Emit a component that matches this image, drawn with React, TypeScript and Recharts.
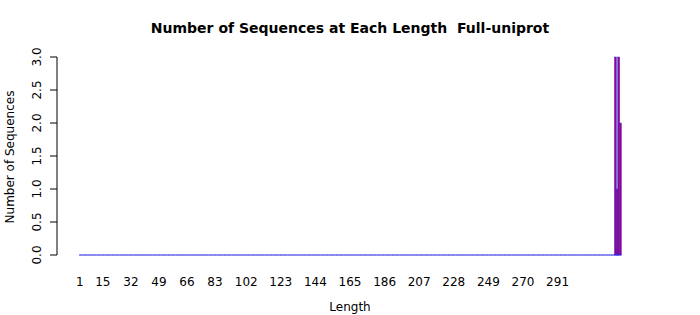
import React from 'react';
import { BarChart, Bar, XAxis, YAxis } from 'recharts';

// lengths run from 1 to 329, only the last few have sequences
const firstLength = 1;
const lastLength = 329;
const seenLengths = [326, 327, 328, 329];
const seenCounts = [3, 1, 3, 2];

const xTickLabels = [1, 15, 32, 49, 66, 83, 102, 123, 144, 165, 186, 207, 228, 249, 270, 291];
const yTicks = [0, 0.5, 1, 1.5, 2, 2.5, 3];

const lengths: number[] = [];
for (let l = firstLength; l <= lastLength; l++) lengths.push(l);

const data = lengths.map((length) => {
  const i = seenLengths.indexOf(length);
  return { length, count: i >= 0 ? seenCounts[i] : 0 };
});

const FONT = '"DejaVu Sans", sans-serif';

// bar drawn like R barplot: fill plus blue border, zero bars leave the blue line
const BarShape = (props: any) => {
  const { x, y, width, height } = props;
  return (
    <g>
      {height > 0 && (
        <rect x={x} y={y} width={width} height={height} fill="#a0007c" stroke="#3a2ee8" strokeWidth={0.5} />
      )}
      <line x1={x} x2={x + width} y1={y + height} y2={y + height} stroke="#2a2ae8" strokeWidth={1} />
    </g>
  );
};

const XTick = (props: any) => {
  const { x, y, payload } = props;
  if (!xTickLabels.includes(payload.value)) return null;
  return (
    <text x={x} y={y + 29} textAnchor="middle" fontSize={12} fontFamily={FONT} fill="#000">
      {payload.value}
    </text>
  );
};

const YTick = (props: any) => {
  const { y, payload } = props;
  return (
    <text
      x={41}
      y={y}
      textAnchor="middle"
      transform={`rotate(-90, 41, ${y})`}
      fontSize={12}
      fontFamily={FONT}
      fill="#000"
    >
      {Number(payload.value).toFixed(1)}
    </text>
  );
};

export default function App() {
  return (
    <div style={{ position: 'absolute', left: 0, top: 0, width: 700, height: 315, background: '#fff' }}>
      <div
        style={{
          position: 'absolute',
          top: 20,
          left: 0,
          width: 700,
          textAlign: 'center',
          fontFamily: FONT,
          fontWeight: 'bold',
          fontSize: 14,
          color: '#000',
        }}
      >
        Number of Sequences at Each Length&nbsp;&nbsp;Full-uniprot
      </div>
      <div
        style={{
          position: 'absolute',
          top: 300,
          left: 0,
          width: 700,
          textAlign: 'center',
          fontFamily: FONT,
          fontSize: 12,
          color: '#000',
        }}
      >
        Length
      </div>
      <svg style={{ position: 'absolute', left: 0, top: 0 }} width={30} height={315}>
        <text
          x={14}
          y={157}
          textAnchor="middle"
          transform="rotate(-90, 14, 157)"
          fontSize={12}
          fontFamily={FONT}
          fill="#000"
        >
          Number of Sequences
        </text>
      </svg>
      <div style={{ position: 'absolute', left: 0, top: 0 }}>
        <BarChart
          width={700}
          height={315}
          data={data}
          margin={{ top: 57, right: 57, left: 0, bottom: 0 }}
          barCategoryGap={0}
          barGap={0}
        >
          <XAxis
            dataKey="length"
            height={60}
            interval={0}
            axisLine={false}
            tickLine={false}
            tickSize={0}
            tick={<XTick />}
            padding={{ left: 22, right: 22 }}
          />
          <YAxis
            width={57}
            domain={[0, 3]}
            ticks={yTicks}
            tick={<YTick />}
            tickSize={7}
            axisLine={{ stroke: '#000' }}
            tickLine={{ stroke: '#000' }}
          />
          <Bar dataKey="count" shape={<BarShape />} isAnimationActive={false} />
        </BarChart>
      </div>
    </div>
  );
}
